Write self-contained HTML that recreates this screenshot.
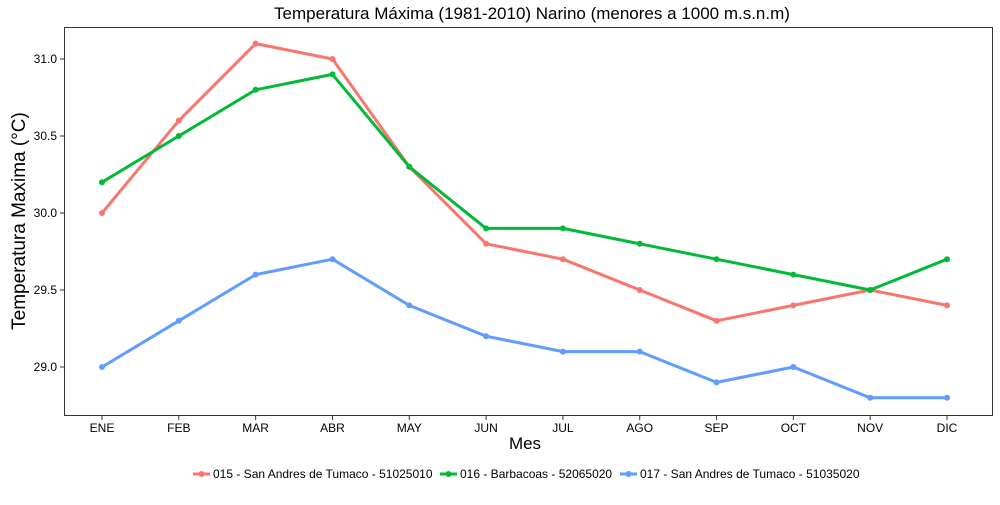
<!DOCTYPE html>
<html><head><meta charset="utf-8"><style>
body{margin:0;background:#fff;font-family:"Liberation Sans",Arial,sans-serif}
svg text{font-family:"Liberation Sans",Arial,sans-serif}
</style></head><body>
<svg id="chart" width="1000" height="500" xmlns="http://www.w3.org/2000/svg">
<rect width="1000" height="500" fill="#fff"/>
<text x="532" y="19" font-size="17" text-anchor="middle" fill="#000">Temperatura Máxima (1981-2010) Narino (menores a 1000 m.s.n.m)</text>
<g id="grid"></g>
<rect x="64.5" y="27.5" width="928" height="388" fill="none" stroke="#333" stroke-width="1"/>
<g id="series"></g>
<g id="axes"></g>
<text x="525" y="449" font-size="17" text-anchor="middle">Mes</text>
<text transform="translate(25,221) rotate(-90)" font-size="19" text-anchor="middle">Temperatura Maxima (°C)</text>
<g id="legend"></g>
</svg>
<script>
const categories=["ENE","FEB","MAR","ABR","MAY","JUN","JUL","AGO","SEP","OCT","NOV","DIC"];
const seriesNames=["015 - San Andres de Tumaco - 51025010","016 - Barbacoas - 52065020","017 - San Andres de Tumaco - 51035020"];
const seriesColors=["#F8766D","#00BA38","#619CFF"];
const red=[30.0,30.6,31.1,31.0,30.3,29.8,29.7,29.5,29.3,29.4,29.5,29.4];
const green=[30.2,30.5,30.8,30.9,30.3,29.9,29.9,29.8,29.7,29.6,29.5,29.7];
const blue=[29.0,29.3,29.6,29.7,29.4,29.2,29.1,29.1,28.9,29.0,28.8,28.8];
const yTicks=[29.0,29.5,30.0,30.5,31.0];
const NS="http://www.w3.org/2000/svg";
function x(i){return 102+i*(947-102)/11;}
function y(v){return 367-(v-29.0)*154;}
function mk(tag,attrs,parent){const e=document.createElementNS(NS,tag);for(const k in attrs)e.setAttribute(k,attrs[k]);parent.appendChild(e);return e;}
const axes=document.getElementById('axes');
yTicks.forEach(t=>{
  mk('line',{x1:60,x2:64,y1:y(t),y2:y(t),stroke:'#333'},axes);
  const tx=mk('text',{x:57,y:y(t)+4,'font-size':12,'text-anchor':'end',fill:'#000'},axes);
  tx.textContent=t.toFixed(1);
  
  
});
categories.forEach((c,i)=>{
  mk('line',{x1:x(i),x2:x(i),y1:416,y2:420,stroke:'#333'},axes);
  const tx=mk('text',{x:x(i),y:432,'font-size':12,'text-anchor':'middle',fill:'#000'},axes);
  tx.textContent=c;
  
  
});
const sg=document.getElementById('series');
[red,green,blue].forEach((d,s)=>{
  const p=mk('polyline',{points:d.map((v,i)=>x(i)+','+y(v)).join(' '),fill:'none',stroke:seriesColors[s],'stroke-width':3,'stroke-linejoin':'round'},sg);
  
  
  d.forEach((v,i)=>{
    const c=mk('circle',{cx:x(i),cy:y(v),r:3,fill:seriesColors[s]},sg);
    
    
  });
});
const lg=document.getElementById('legend');
const lx=[193,440,620];
seriesNames.forEach((n,s)=>{
  const g=mk('g',{},lg);
  
  
  mk('line',{x1:lx[s],x2:lx[s]+17,y1:474,y2:474,stroke:seriesColors[s],'stroke-width':3},g);
  mk('circle',{cx:lx[s]+8.5,cy:474,r:3,fill:seriesColors[s]},g);
  const t=mk('text',{x:lx[s]+20,y:478,'font-size':12},g);
  t.textContent=n;
});
</script>
</body></html>
